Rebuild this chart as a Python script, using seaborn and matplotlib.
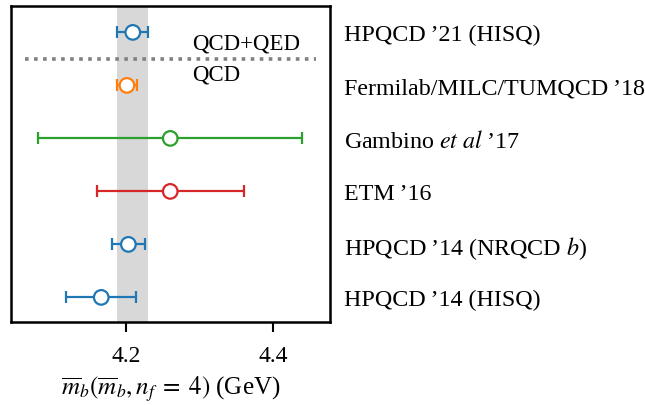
import matplotlib
matplotlib.use("Agg")
import matplotlib.pyplot as plt
import seaborn as sns
import pandas as pd

labels = ["HPQCD\u2009\u201914 (HISQ)", "HPQCD\u2009\u201914 (NRQCD $b$)", "ETM\u2009\u201916",
          "Gambino $et$ $al$\u2009\u201917", "Fermilab/MILC/TUMQCD\u2009\u201918", "HPQCD\u2009\u201921 (HISQ)"]
values = [4.166, 4.203, 4.26, 4.26, 4.201, 4.209]
errors = [0.048, 0.023, 0.10, 0.18, 0.014, 0.021]
colors = ["#1f77b4", "#1f77b4", "#d62728", "#2ca02c", "#ff7f0e", "#1f77b4"]
band = (4.188, 4.230)

sns.set_style("white")
plt.rcParams["font.family"] = ["Liberation Serif", "DejaVu Serif"]
plt.rcParams["mathtext.fontset"] = "stix"
plt.rcParams["text.color"] = "black"
plt.rcParams["xtick.color"] = "black"
plt.rcParams["ytick.color"] = "black"
plt.rcParams["axes.labelcolor"] = "black"

fig = plt.figure(figsize=(6.45, 4.06), dpi=100)
ax = fig.add_axes([0.017, 0.205, 0.495, 0.778])

df = pd.DataFrame({"y": range(len(values)), "x": values, "err": errors, "label": labels})

ax.axvspan(band[0], band[1], color="#d8d8d8", zorder=0, lw=0)
for i, r in df.iterrows():
    ax.errorbar(r["x"], r["y"], xerr=r["err"], fmt="none", ecolor=colors[i],
                elinewidth=1.6, capsize=4.5, capthick=1.6, zorder=2)
sns.scatterplot(data=df, x="x", y="y", hue="label", palette=dict(zip(labels, colors)),
                ax=ax, legend=False, s=110, zorder=3)
sc = ax.collections[-1]
sc.set_facecolor("white")
sc.set_edgecolor(colors)
sc.set_linewidth(1.6)

ax.plot([4.062, 4.458], [4.5, 4.5], ls=(0, (1, 1.5)), color="#808080", lw=2.6, zorder=1)
ax.text(4.29, 4.80, "QCD+QED", fontsize=16.5, va="center", ha="left")
ax.text(4.29, 4.21, "QCD", fontsize=16.5, va="center", ha="left")

ax.set_xlim(4.043, 4.478)
ax.set_ylim(-0.46, 5.5)
ax.set_xticks([4.2, 4.4])
ax.set_xticklabels(["4.2", "4.4"])
ax.set_yticks(range(len(labels)))
ax.set_yticklabels(labels)
ax.yaxis.tick_right()
ax.tick_params(axis="y", length=0, pad=10, labelsize=17.3)
ax.tick_params(axis="x", direction="out", length=7, width=1.5, labelsize=17, pad=10, bottom=True)
ax.set_xlabel(r"$\overline{m}_b(\overline{m}_b,n_f\;=\;4)$ (GeV)", fontsize=18, labelpad=5)
ax.set_ylabel("")
for s in ax.spines.values():
    s.set_linewidth(1.8)
    s.set_color("black")

fig.savefig("out.png", dpi=100)
